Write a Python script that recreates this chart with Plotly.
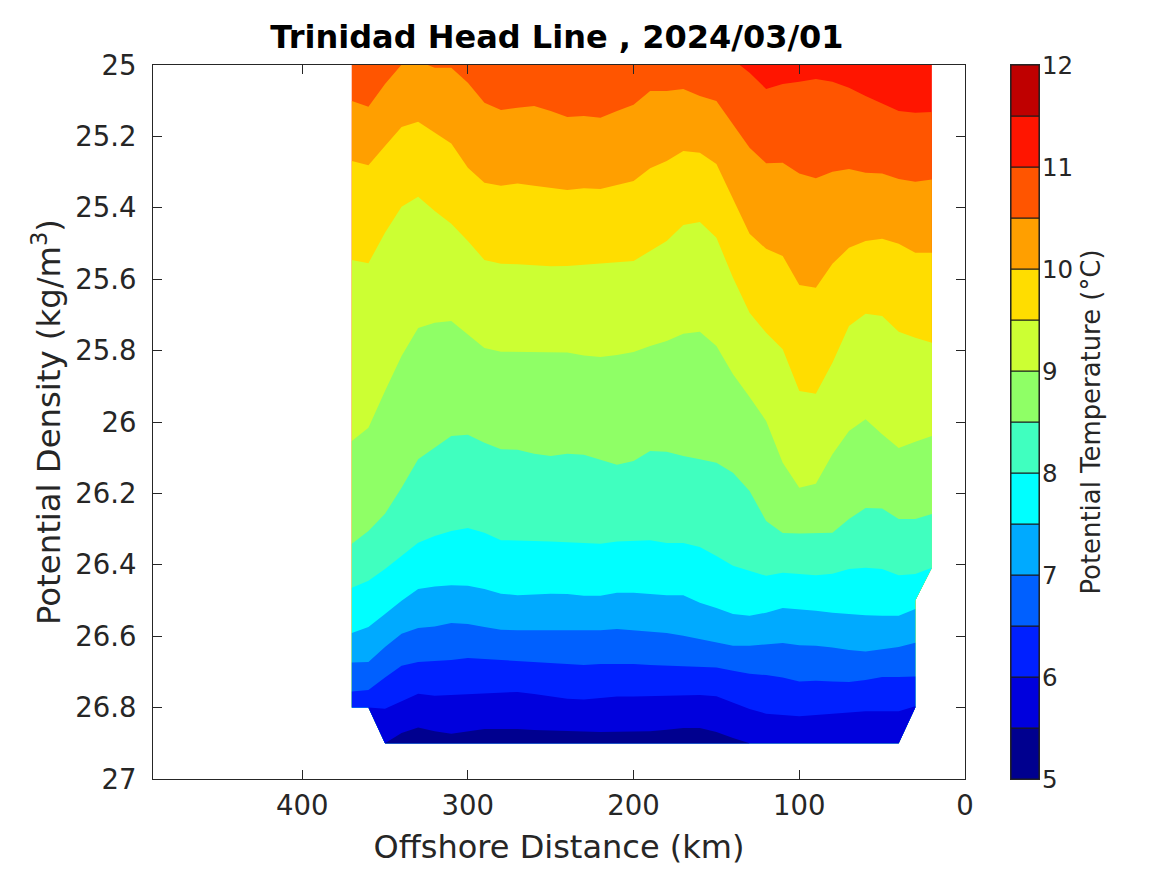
import plotly.graph_objects as go

# offshore distance of the stations (km)
dist = [370,360,350,340,330,320,310,300,290,280,270,260,250,240,230,220,210,200,
        190,180,170,160,150,140,130,120,110,100,90,80,70,60,50,40,30,20]

# density of each isotherm at the stations (kg/m3), None = no data there
iso_top = [25.0]*36
iso_11 = [25.0,25.0,25.0,25.0,25.0,25.0,25.0,25.0,25.0,25.0,25.0,25.0,25.0,25.0,25.0,25.0,25.0,25.0,
          25.0,25.0,25.0,25.0,25.0,24.985,25.022,25.067,25.053,25.047,25.039,25.047,25.064,25.087,25.108,25.129,25.134,25.132]
iso_105 = [25.101,25.117,25.053,24.999,24.989,25.008,25.008,25.050,25.106,25.126,25.120,25.115,25.129,25.146,25.143,25.148,25.129,25.111,
           25.073,25.073,25.067,25.087,25.101,25.165,25.232,25.275,25.274,25.304,25.317,25.299,25.291,25.302,25.304,25.319,25.327,25.321]
iso_10 = [25.269,25.281,25.227,25.174,25.159,25.190,25.220,25.288,25.330,25.338,25.332,25.338,25.345,25.350,25.345,25.347,25.336,25.325,
          25.289,25.269,25.241,25.246,25.277,25.375,25.473,25.515,25.535,25.616,25.624,25.557,25.512,25.493,25.487,25.501,25.526,25.526]
iso_95 = [25.546,25.555,25.470,25.397,25.369,25.409,25.445,25.493,25.546,25.557,25.558,25.560,25.564,25.563,25.560,25.557,25.554,25.549,
          25.521,25.493,25.448,25.440,25.484,25.596,25.694,25.750,25.796,25.913,25.921,25.834,25.731,25.697,25.703,25.747,25.764,25.778]
iso_9 = [26.053,26.016,25.913,25.815,25.737,25.722,25.717,25.754,25.793,25.803,25.803,25.803,25.804,25.805,25.814,25.818,25.812,25.804,
         25.787,25.773,25.753,25.747,25.787,25.866,25.930,25.997,26.114,26.184,26.173,26.090,26.025,25.992,26.034,26.073,26.055,26.039]
iso_85 = [26.341,26.305,26.257,26.184,26.104,26.072,26.039,26.036,26.058,26.076,26.078,26.089,26.095,26.089,26.092,26.106,26.120,26.109,
          26.081,26.083,26.095,26.104,26.114,26.142,26.193,26.277,26.311,26.312,26.311,26.310,26.272,26.241,26.242,26.272,26.272,26.258]
iso_8 = [26.464,26.445,26.412,26.375,26.338,26.319,26.305,26.297,26.310,26.331,26.331,26.333,26.335,26.337,26.339,26.341,26.335,26.333,
         26.331,26.339,26.339,26.350,26.375,26.403,26.417,26.431,26.422,26.426,26.429,26.425,26.412,26.408,26.412,26.429,26.426,26.408]
iso_75 = [26.591,26.574,26.538,26.501,26.468,26.461,26.457,26.459,26.468,26.481,26.485,26.482,26.481,26.482,26.487,26.487,26.478,26.478,
          26.481,26.485,26.485,26.506,26.521,26.538,26.543,26.534,26.521,26.524,26.529,26.534,26.538,26.541,26.543,26.543,26.524,None]
iso_7 = [26.674,26.672,26.630,26.593,26.577,26.573,26.563,26.566,26.574,26.582,26.583,26.583,26.583,26.583,26.583,26.583,26.580,26.583,
         26.588,26.591,26.599,26.609,26.618,26.627,26.627,26.622,26.619,26.625,26.627,26.632,26.639,26.643,26.636,26.630,26.618,None]
iso_65 = [26.755,26.751,26.716,26.683,26.672,26.669,26.667,26.661,26.664,26.667,26.669,26.672,26.675,26.678,26.681,26.678,26.677,26.678,
          26.681,26.683,26.685,26.686,26.688,26.697,26.705,26.709,26.716,26.727,26.725,26.727,26.728,26.723,26.714,26.714,26.713,None]
iso_6 = [None,26.800,26.803,26.782,26.761,26.767,26.765,26.761,26.759,26.758,26.756,26.762,26.768,26.775,26.777,26.773,26.769,26.769,
         26.768,26.767,26.765,26.765,26.768,26.786,26.804,26.817,26.821,26.824,26.821,26.817,26.812,26.810,26.810,26.810,26.796,None]
iso_55 = [None,None,26.900,26.871,26.856,26.866,26.873,26.866,26.860,26.860,26.860,26.863,26.865,26.866,26.867,26.868,26.868,26.867,
          26.866,26.862,26.857,26.857,26.868,26.885,26.900,None,None,None,None,None,None,None,None,None,None,None]

# lower limit of the sampled section, right to left
edge_dist = [20,30,30,40,350,360,370]
edge_dens = [26.408,26.5,26.8,26.9,26.9,26.8,26.8]

# colour levels, warmest first: the band just under each isotherm is painted over the last one
isotherms = [iso_top,iso_11,iso_105,iso_10,iso_95,iso_9,iso_85,iso_8,iso_75,iso_7,iso_65,iso_6,iso_55]
levels = [5,5.5,6,6.5,7,7.5,8,8.5,9,9.5,10,10.5,11,11.5]
colors = ['#00008f','#0000dd','#0020ff','#0060ff','#00aaff','#00ffff','#40ffbf','#8fff66',
          '#ccff33','#ffdd00','#ff9f00','#ff5500','#ff1500','#bf0000']
level_step = [0.5]*14
band_colors = ['#ff1500','#ff5500','#ff9f00','#ffdd00','#ccff33','#8fff66','#40ffbf','#00ffff',
               '#00aaff','#0060ff','#0020ff','#0000dd','#00008f']

x_ticks = [0,100,200,300,400]
y_ticks = [25,25.2,25.4,25.6,25.8,26,26.2,26.4,26.6,26.8,27]
y_labels = ['25','25.2','25.4','25.6','25.8','26','26.2','26.4','26.6','26.8','27']
cb_ticks = [5,6,7,8,9,10,11,12]

W,H = 1167,875
pad = 7  # the page body sits in from the window
ink = '#262626'
font = 'DejaVu Sans'

fig = go.Figure()
for iso,col in zip(isotherms,band_colors):
    xs = [d for d,v in zip(dist,iso) if v is not None]
    ys = [v for v in iso if v is not None]
    lo,hi = min(xs),max(xs)
    for d,v in zip(edge_dist,edge_dens):
        if lo<=d<=hi:
            xs.append(d)
            ys.append(v)
    fig.add_trace(go.Scatter(x=xs,y=ys,mode='lines',fill='toself',fillcolor=col,
                             line=dict(width=0),hoverinfo='skip',showlegend=False))

# colour scale drawn as its own little axes
fig.add_trace(go.Bar(x=[0]*14,y=level_step,base=levels,width=1,marker=dict(color=colors,line=dict(color='#1a1a1a',width=1)),
                     xaxis='x2',yaxis='y2',hoverinfo='skip',showlegend=False))

fig.update_layout(
    width=W,height=H,margin=dict(l=0,r=0,t=0,b=0,autoexpand=False),paper_bgcolor='white',plot_bgcolor='white',
    font=dict(family=font,color=ink),
    title=dict(text='<b>Trinidad Head Line , 2024/03/01</b>',x=(557-pad-1)/W,y=1-(37-pad-1)/H,xanchor='center',yanchor='middle',
               font=dict(size=32,color='black')),
    barmode='overlay',
    xaxis=dict(domain=[(152-pad)/W,(964-pad)/W],range=[490,0],tickvals=x_ticks,ticks='inside',ticklen=9,tickcolor=ink,automargin=False,
               showgrid=False,zeroline=False,showline=True,linecolor=ink,linewidth=1,mirror='allticks',layer='above traces',
               ticklabelstandoff=2,tickfont=dict(size=27.5),title=dict(text='Offshore Distance (km)',font=dict(size=32),standoff=15)),
    yaxis=dict(domain=[1-(778-pad)/H,1-(64-pad)/H],range=[27,25],tickvals=y_ticks,ticktext=y_labels,ticks='inside',ticklen=9,tickcolor=ink,automargin=False,
               showgrid=False,zeroline=False,showline=True,linecolor=ink,linewidth=1,mirror='allticks',layer='above traces',
               ticklabelstandoff=10,tickfont=dict(size=27.5),title=dict(text='Potential Density (kg/m<sup>3</sup>)',font=dict(size=32.3),standoff=4)),
    xaxis2=dict(domain=[(1010-pad)/W,(1038-pad)/W],range=[-0.5,0.5],anchor='y2',showticklabels=False,ticks='',showgrid=False,zeroline=False,automargin=False,
                showline=True,linecolor=ink,linewidth=1,mirror=True),
    yaxis2=dict(domain=[1-(778-pad)/H,1-(64-pad)/H],range=[5,12],anchor='x2',side='right',tickvals=cb_ticks,ticks='',showgrid=False,zeroline=False,automargin=False,
                showline=True,linecolor=ink,linewidth=1,mirror=True,ticklabelstandoff=-3,tickfont=dict(size=24.5),
                title=dict(text='Potential Temperature (°C)',font=dict(size=25.9),standoff=9)),
)

fig.write_html("out.html")
